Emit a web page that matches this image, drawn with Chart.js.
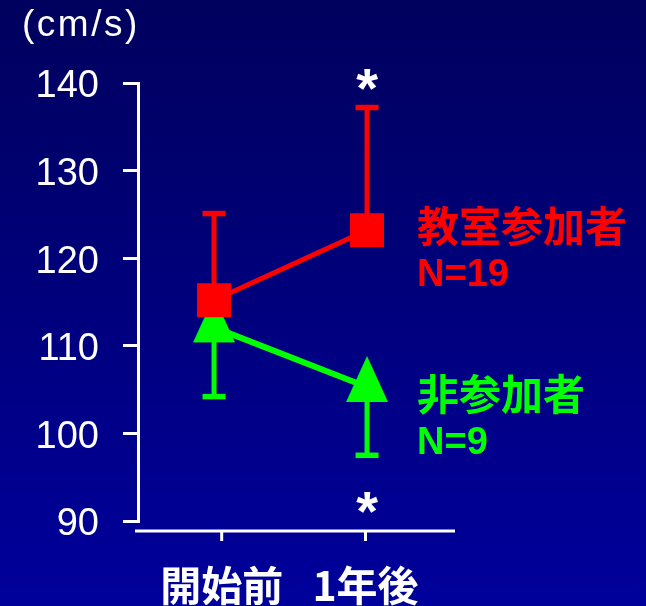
<!DOCTYPE html>
<html>
<head>
<meta charset="utf-8">
<script src="https://cdn.jsdelivr.net/npm/chart.js@4.4.0/dist/chart.umd.min.js"></script>
<style>
  html, body { margin: 0; padding: 0; background: #000080; }
  #chart { display: block; }
</style>
</head>
<body>
<canvas id="chart" width="646" height="606"></canvas>
<script>
// data
const groups = ['開始前', '1年後'];
const groupX = [0, 1];
const groupTickX = [0.05, 0.99]; // axis tick marks sit a bit off the markers in the original
const participants = [115.2, 123.2];
const participantsUpper = [125.1, 137.2];
const nonParticipants = [112.1, 105.3];
const nonParticipantsLower = [104.2, 97.5];
const seriesNames = ['教室参加者', '非参加者'];
const seriesCounts = ['N=19', 'N=9'];
const seriesLabelY = [123.7, 104.5];
const seriesColors = ['#ff0000', '#00ff00'];
const sigX = [1, 1];
const sigY = [140.4, 92.1];
const unitLabel = '(cm/s)';

const yMin = 90, yMax = 140, yStep = 10;

// green marker is a taller-than-equilateral triangle, centroid at canvas centre
function triangleImage(color) {
    const c = document.createElement('canvas');
    c.width = 42;
    c.height = 62;
    const g = c.getContext('2d');
    g.fillStyle = color;
    g.beginPath();
    g.moveTo(21, 0);
    g.lineTo(42, 46);
    g.lineTo(0, 46);
    g.closePath();
    g.fill();
    return c;
}

function errorBar(ctx, x, yFrom, yTo, color) {
    ctx.strokeStyle = color;
    ctx.lineCap = 'butt';
    ctx.lineWidth = 5;
    ctx.beginPath();
    ctx.moveTo(x, yFrom);
    ctx.lineTo(x, yTo);
    ctx.stroke();
    ctx.lineWidth = 5.5;
    ctx.beginPath();
    ctx.moveTo(x - 11.5, yTo);
    ctx.lineTo(x + 11.5, yTo);
    ctx.stroke();
}

const decorations = {
    id: 'decorations',
    beforeDraw(chart) {
        const { ctx, width, height } = chart;
        const grad = ctx.createLinearGradient(0, 0, 0, height);
        grad.addColorStop(0, '#00005e');
        grad.addColorStop(1, '#00009c');
        ctx.save();
        ctx.fillStyle = grad;
        ctx.fillRect(0, 0, width, height);
        ctx.restore();
    },
    beforeDatasetsDraw(chart) {
        const { ctx } = chart;
        const xs = chart.scales.x, ys = chart.scales.y;
        ctx.save();
        groupX.forEach((gx, i) => {
            const px = xs.getPixelForValue(gx);
            errorBar(ctx, px, ys.getPixelForValue(participants[i]), ys.getPixelForValue(participantsUpper[i]), seriesColors[0]);
            errorBar(ctx, px, ys.getPixelForValue(nonParticipants[i]), ys.getPixelForValue(nonParticipantsLower[i]), seriesColors[1]);
        });
        ctx.restore();
    },
    afterDraw(chart) {
        const { ctx, chartArea } = chart;
        const xs = chart.scales.x, ys = chart.scales.y;
        ctx.save();

        // x axis line, detached a little below the y axis
        const axisY = chartArea.bottom + 10;
        ctx.strokeStyle = '#ffffff';
        ctx.lineWidth = 3;
        ctx.beginPath();
        ctx.moveTo(chartArea.left - 3, axisY);
        ctx.lineTo(chartArea.right, axisY);
        ctx.stroke();
        groupTickX.forEach(v => {
            const px = xs.getPixelForValue(v);
            ctx.beginPath();
            ctx.moveTo(px, axisY);
            ctx.lineTo(px, axisY + 10);
            ctx.stroke();
        });

        // unit label
        ctx.fillStyle = '#ffffff';
        ctx.font = '37px "Liberation Sans", Arial, sans-serif';
        ctx.letterSpacing = '2.5px';
        ctx.textAlign = 'left';
        ctx.textBaseline = 'middle';
        ctx.fillText(unitLabel, 22, 26);
        ctx.letterSpacing = '0px';

        // series labels on the right
        const labelX = xs.getPixelForValue(groupX[1]) + 50;
        seriesNames.forEach((name, i) => {
            const py = ys.getPixelForValue(seriesLabelY[i]);
            ctx.fillStyle = seriesColors[i];
            ctx.font = 'bold 42px "Noto Sans CJK JP", sans-serif';
            ctx.fillText(name, labelX, py);
            ctx.font = 'bold 38px "Liberation Sans", Arial, sans-serif';
            ctx.fillText(seriesCounts[i], labelX, py + 50);
        });

        // significance asterisks
        ctx.fillStyle = '#ffffff';
        ctx.font = 'bold 56px "Liberation Sans", Arial, sans-serif';
        ctx.textAlign = 'center';
        ctx.textBaseline = 'alphabetic';
        const m = ctx.measureText('*');
        const shift = (m.actualBoundingBoxAscent - m.actualBoundingBoxDescent) / 2;
        sigX.forEach((sx, i) => {
            ctx.fillText('*', xs.getPixelForValue(sx), ys.getPixelForValue(sigY[i]) + shift);
        });

        ctx.restore();
    }
};

const chart = new Chart(document.getElementById('chart').getContext('2d'), {
    type: 'line',
    data: {
        datasets: [{
            label: seriesNames[0],
            data: groupX.map((x, i) => ({ x: x, y: participants[i] })),
            borderColor: seriesColors[0],
            backgroundColor: seriesColors[0],
            borderWidth: 5,
            tension: 0,
            pointStyle: 'rect',
            pointRadius: 24,
            pointBorderWidth: 0,
            clip: false
        }, {
            label: seriesNames[1],
            data: groupX.map((x, i) => ({ x: x, y: nonParticipants[i] })),
            borderColor: seriesColors[1],
            backgroundColor: seriesColors[1],
            borderWidth: 6,
            tension: 0,
            pointStyle: triangleImage(seriesColors[1]),
            pointRadius: 20,
            pointBorderWidth: 0,
            clip: false
        }]
    },
    options: {
        responsive: false,
        animation: false,
        devicePixelRatio: 1,
        events: [],
        layout: { padding: { left: 0, top: 83, right: 191, bottom: 0 } },
        plugins: {
            legend: { display: false },
            tooltip: { enabled: false }
        },
        scales: {
            x: {
                type: 'linear',
                min: -0.497,
                max: 1.575,
                grid: { display: false, drawTicks: false },
                border: { display: false },
                afterBuildTicks: scale => {
                    scale.ticks = groupTickX.map(v => ({ value: v }));
                },
                afterFit: scale => { scale.height = 85; },
                ticks: {
                    color: '#ffffff',
                    padding: 44,
                    maxRotation: 0,
                    font: { family: '"Noto Sans CJK JP", sans-serif', size: 41, weight: 'bold', lineHeight: 1 },
                    callback: (value, index) => groups[index]
                }
            },
            y: {
                min: yMin,
                max: yMax,
                afterFit: scale => { scale.width = 138; },
                grid: {
                    drawOnChartArea: false,
                    drawTicks: true,
                    tickLength: 15,
                    color: '#ffffff',
                    lineWidth: 3
                },
                border: { display: true, color: '#ffffff', width: 3 },
                ticks: {
                    stepSize: yStep,
                    color: '#ffffff',
                    padding: 24,
                    labelOffset: 4,
                    font: { family: '"Liberation Sans", Arial, sans-serif', size: 38 }
                }
            }
        }
    },
    plugins: [decorations]
});
</script>
</body>
</html>
